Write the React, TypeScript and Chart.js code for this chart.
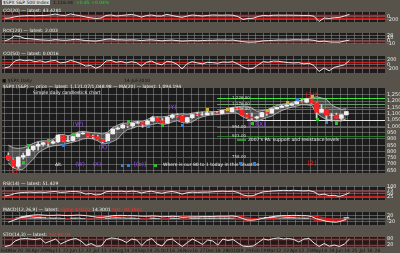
import React, { useEffect, useRef } from "react";
import { Chart, registerables } from "chart.js";
Chart.register(...registerables);

// ---------- DATA (weekly, Feb 27 2009 .. Jun 18 2010) ----------
const openPrices = [770,735,683,756,769,816,843,857,870,866,878,930,883,887,919,940,946,921,918,896,879,940,979,987,1010,1005,1026,1029,1016,1042,1068,1044,1025,1071,1087,1080,1036,1069,1093,1091,1091,1106,1106,1102,1126,1115,1145,1136,1092,1074,1066,1075,1109,1104,1139,1150,1160,1167,1179,1194,1192,1217,1187,1111,1136,1088,1089,1064,1092];
const closePrices = [735,683,756,769,816,843,857,870,866,878,930,883,887,919,940,946,921,918,896,879,940,979,987,1010,1005,1026,1029,1016,1042,1068,1044,1025,1071,1087,1080,1036,1069,1093,1091,1091,1106,1106,1102,1126,1115,1145,1136,1092,1074,1066,1075,1109,1104,1139,1150,1160,1167,1179,1194,1192,1217,1187,1111,1136,1088,1089,1064,1092,1117];
const highPrices = [790,742,758,788,832,845,875,875,878,888,930,933,925,920,945,956,948,931,930,898,943,980,996,1018,1013,1027,1040,1031,1048,1080,1075,1061,1076,1097,1101,1085,1072,1096,1113,1112,1119,1110,1117,1129,1130,1145,1150,1137,1103,1105,1081,1112,1112,1139,1152,1167,1180,1181,1196,1213,1218,1220,1190,1173,1135,1104,1105,1093,1119];
const lowPrices = [730,672,666,740,765,805,812,843,840,860,870,880,878,883,915,937,916,903,894,869,880,940,973,985,990,991,1024,992,1017,1040,1043,1020,1025,1062,1075,1035,1029,1062,1085,1087,1091,1090,1097,1099,1114,1114,1131,1090,1071,1044,1056,1074,1086,1104,1139,1147,1159,1167,1179,1192,1186,1183,1065,1111,1056,1040,1064,1042,1089];
const bbUpper = [850,830,825,830,845,865,880,885,885,895,935,935,925,935,955,960,955,950,945,940,955,990,1010,1025,1025,1035,1040,1040,1055,1075,1075,1075,1080,1095,1095,1100,1095,1105,1110,1115,1115,1117,1117,1127,1136,1150,1155,1160,1160,1145,1120,1125,1130,1150,1165,1175,1180,1188,1200,1208,1220,1225,1235,1225,1215,1170,1150,1135,1140];
const bbLower = [710,670,655,660,700,740,790,815,835,845,850,855,865,875,885,900,905,900,885,860,865,880,900,945,975,985,1000,1000,1005,1015,1025,1015,1020,1035,1045,1030,1025,1035,1060,1075,1085,1093,1093,1097,1100,1106,1105,1080,1060,1045,1040,1055,1070,1080,1105,1125,1140,1152,1160,1172,1170,1165,1105,1075,1055,1050,1040,1045,1060];

const cciTop = [-123,-105,-20,42,60,80,60,80,80,116,190,98,80,200,116,60,-31,-86,-142,-105,80,116,42,80,116,164,80,-42,80,116,42,42,164,80,6,-57,42,116,80,42,80,116,105,98,116,98,6,-215,-142,-123,6,80,60,98,105,98,105,98,90,80,90,24,-362,-105,-142,-86,-68,42,164];
const rocVals = [-1,5.5,19,16,8.6,7.5,5.5,3.4,2.4,1.4,4.5,2.4,1.4,3.4,5.5,3.4,0.3,-0.7,-1.7,1.4,5.5,6.5,3.4,3.4,2.4,3.4,2.4,0.3,2.4,3.4,1.4,-0.7,1.4,2.4,0.3,-1.7,-0.7,0.3,-0.7,0.3,1.4,1.4,2.4,2.4,1.4,2.4,-0.7,-3.8,-5.8,-5.8,-3.8,-0.7,0.3,1.4,2.4,2.4,2.4,3.4,3.4,2.4,3.4,1.4,-3.8,-1.7,-4.8,-5.8,-5.8,-1.7,2.4];
const cciMid = [-160,-104,148,204,162,190,120,162,92,148,176,64,92,176,120,36,-76,-48,-174,-76,148,176,92,134,64,120,78,-76,92,148,36,-20,134,106,8,-202,36,120,64,22,92,78,50,106,92,120,22,-118,-202,-174,-20,120,92,148,134,106,78,64,78,22,50,-48,-314,-160,-286,-132,-76,-20,176];
const rsiVals = [33,37.5,50,56,58,60,58,60,58,62.5,65,58,60,65,65,60,46,50,40,44,62.5,67,65,67,62.5,67,65,54,62.5,67,58,52,60,65,58,46,56,60,58,60,60,62.5,65,67,65,67,58,40,33,35,50,62.5,65,69,71,73,71,73,71,69,71,62.5,40,46,35,37.5,29,40,56];
const macdLine = [-23,-12,0,12,17.5,21,23,21,19,19,21,19,17.5,19,21,19,16,12,7,7,12,17.5,19,19,17.5,17.5,16,14,14,16,14,10.5,12,14,12,7,9,10.5,10.5,12,12,12,14,14,14,16,12,2,-9,-10.5,-7,0,5,10.5,16,17.5,17.5,19,19,17.5,17.5,12,-2,-9,-17.5,-21,-23,-16,-3.5];
const macdSignal = [-5,-6,-4,0,5,10,14,17,18,19,19.5,19.5,19,19,19.5,19.5,18.5,17,14,12,11,12,14,16,17,17.5,17,16,15,15,15,14,13,13,12.5,11,10,10,10,10.5,11,11.5,12,13,13.5,14,14,11,6,1,-3,-4,-3,0,4,8,11,14,16,17,17.5,16.5,12,7,1,-5,-10,-13,-12];
const macdHist = [-6,-4,4,12,15,13,10,6,3,1,2,0,-1,1,2,0,-2,-4,-6,-5,1,5,5,4,2,1,0,-2,-1,1,0,-3,-1,1,0,-4,-1,1,1,2,1,1,2,1,1,2,-2,-8,-12,-11,-6,3,7,9,11,10,8,6,4,2,1,-4,-12,-14,-15,-13,-10,-5,6];
const stochVals = [5,15,60,80,85,80,75,85,40,60,80,30,55,75,85,60,15,35,8,10,75,90,85,70,45,80,70,15,65,85,30,10,70,80,40,5,45,80,55,25,70,60,20,80,65,75,40,8,5,10,45,80,70,85,90,80,85,75,50,80,85,40,5,35,8,20,5,30,80];

const priceTicks = [650,700,750,800,850,900,950,1000,1050,1100,1150,1200,1250];
const supportLevels = [1226, 1176, 1136, 994, 923, 758];
const supportColors = ["#3fe03f", "#6f9a6f", "#2e8f2e", "#2e8f2e", "#2a7a2a", "#2a7a2a"];
const supportStart = [42, 42, 42, 42, 42, 30];
const whiteLevel = [1047];

// x-axis: grid every 1.5 weeks, with its date label
const xGrid = [0,1.5,3,4.5,6,7.5,9,10.5,12,13.5,15,16.5,18,19.5,21,22.5,24,25.5,27,28.5,30,31.5,33,34.5,36,37.5,39,40.5,42,43.5,45,46.5,48,49.5,51,52.5,54,55.5,57,58.5,60,61.5,63,64.5,66,67.5,69,70.5,72,73.5];
const xGridText = ["Feb","Mar","20","30","Apr","20","May","11","22","Jun","12","22","Jul","13","24","Aug","14","24","Sep","14","25","Oct","16","26","Nov","16","27","Dec","18","28","2010","19","29","Feb","19","Mar","12","22","Apr","12","23","May","14","24","Jun","14","25","Jul","16","26"];

const waveIdx = [1, 14, 19, 33, 50, 61];
const wavePrice = [640, 1015, 835, 1148, 1018, 1248];
const waveText = ["[1]", "(W)", "(X)", "(Y)", "[4](X)", "[3]?"];
const waveColor = ["#ff2020", "#9a4dff", "#9a4dff", "#9a4dff", "#9a4dff", "#ff2020"];

const markIdx = [3, 4, 8, 11, 13, 20, 24, 28, 31, 35, 40, 44, 49, 52, 56, 58, 61, 62, 64, 66];
const markPrice = [720, 850, 895, 855, 940, 875, 1040, 1000, 1010, 1010, 1135, 1140, 1030, 1130, 1190, 1215, 1240, 1060, 1035, 1030];
const markColor = ["#2fbf2f","#2fbf2f","#2fbf2f","#3a7fd0","#2fbf2f","#3a7fd0","#2fbf2f","#3a7fd0","#2fbf2f","#3a7fd0","#c8b030","#c8b030","#2fbf2f","#c8b030","#c8b030","#3a7fd0","#c8b030","#2fbf2f","#3a7fd0","#2fbf2f"];

// ---------- helpers ----------
const X_MIN = -0.5;
const X_MAX = 75;
const GRID = "rgba(150,150,150,0.5)";
const PANEL_BG = "#1c1c1c";
const FONT = "DejaVu Sans";
const MAIN_TOP = 83;

const pts = (arr: number[]) => arr.map((y, i) => ({ x: i, y }));

const bgPlugin = {
  id: "bgPanel",
  beforeDraw(chart: any) {
    const { ctx, chartArea } = chart;
    ctx.save();
    ctx.fillStyle = PANEL_BG;
    ctx.fillRect(chartArea.left, chartArea.top, chartArea.right - chartArea.left, chartArea.bottom - chartArea.top);
    ctx.restore();
  },
};

const levelsPlugin = {
  id: "levels",
  beforeDatasetsDraw(chart: any, _a: any, opts: any) {
    const items = opts.items || [];
    const { ctx, chartArea, scales } = chart;
    ctx.save();
    for (const it of items) {
      const y = Math.round(scales.y.getPixelForValue(it.value)) + 0.5;
      const x0 = it.from != null ? scales.x.getPixelForValue(it.from) : chartArea.left;
      ctx.strokeStyle = it.color;
      ctx.lineWidth = it.width || 1;
      ctx.beginPath();
      ctx.moveTo(x0, y);
      ctx.lineTo(chartArea.right, y);
      ctx.stroke();
    }
    ctx.restore();
  },
};

const textsPlugin = {
  id: "texts",
  afterDatasetsDraw(chart: any, _a: any, opts: any) {
    const items = opts.items || [];
    const { ctx, scales } = chart;
    ctx.save();
    for (const it of items) {
      const x = it.px != null ? it.px : scales.x.getPixelForValue(it.x);
      const y = it.py != null ? it.py : scales.y.getPixelForValue(it.y);
      if (it.square) {
        ctx.fillStyle = it.color;
        ctx.fillRect(Math.round(x) - 1, Math.round(y) - 1, 3, 3);
        continue;
      }
      if (it.line) {
        ctx.strokeStyle = it.color;
        ctx.lineWidth = 1.5;
        ctx.beginPath();
        ctx.moveTo(x, y);
        ctx.lineTo(x + it.line, y);
        ctx.stroke();
        continue;
      }
      ctx.fillStyle = it.color;
      ctx.font = `${it.bold ? "bold " : ""}${it.size || 5}px ${FONT}`;
      ctx.textAlign = it.align || "center";
      ctx.textBaseline = "middle";
      ctx.fillText(it.text, x, y);
    }
    ctx.restore();
  },
};

function xScale(showLabels: boolean) {
  return {
    type: "linear",
    min: X_MIN,
    max: X_MAX,
    grid: { color: GRID, lineWidth: 1, drawTicks: false },
    border: { display: false },
    ticks: {
      display: showLabels,
      color: "#111",
      font: { size: 4.5, family: FONT },
      padding: 1,
      maxRotation: 0,
      autoSkip: false,
      callback: (v: number) => {
        const k = xGrid.indexOf(v);
        return k >= 0 ? xGridText[k] : "";
      },
    },
    afterBuildTicks: (s: any) => {
      s.ticks = xGrid.map((v) => ({ value: v }));
    },
    afterFit: (s: any) => {
      s.height = showLabels ? 6 : 0;
    },
  };
}

function yScale(min: number, max: number, ticks: number[], fmt?: (v: number) => string) {
  return {
    position: "right",
    min,
    max,
    grid: { color: GRID, lineWidth: 1, drawTicks: false },
    border: { display: false },
    ticks: {
      color: "#e8e8e8",
      font: { size: 5, family: FONT },
      padding: 2,
      autoSkip: false,
      callback: (v: number) => (fmt ? fmt(v) : String(v)),
    },
    afterBuildTicks: (s: any) => {
      s.ticks = ticks.map((v) => ({ value: v }));
    },
    afterFit: (s: any) => {
      s.width = 15;
    },
  };
}

function baseOptions(xs: any, ys: any, plugins: any = {}) {
  return {
    responsive: false,
    animation: false,
    devicePixelRatio: 1,
    layout: { padding: { left: 2, right: 0, top: 0, bottom: 0 } },
    plugins: { legend: { display: false }, tooltip: { enabled: false }, ...plugins },
    scales: { x: xs, y: ys },
    elements: { point: { radius: 0 } },
  };
}

function lineDs(data: number[], color: string, width = 1, extra: any = {}) {
  return { type: "line", data: pts(data), borderColor: color, borderWidth: width, pointRadius: 0, tension: 0, ...extra };
}

function Panel({ top, height, build }: { top: number; height: number; build: () => any }) {
  const ref = useRef<HTMLCanvasElement | null>(null);
  useEffect(() => {
    const chart = new Chart(ref.current as HTMLCanvasElement, build());
    return () => chart.destroy();
  }, []);
  return (
    <canvas
      ref={ref}
      width={400}
      height={height}
      style={{ position: "absolute", left: 0, top, width: 400, height, display: "block" }}
    />
  );
}

const plugins = [bgPlugin, levelsPlugin, textsPlugin];

function oscConfig(data: number[], min: number, max: number, ticks: number[], reds: number[], showX = false) {
  return {
    type: "line",
    data: { datasets: [lineDs(data, "#e6e6e6", 1)] },
    options: baseOptions(xScale(showX), yScale(min, max, ticks), {
      levels: { items: reds.map((v) => ({ value: v, color: "#c81e1e", width: 1.5 })) },
    }),
    plugins,
  };
}

const fmtPrice = (v: number) => v.toLocaleString("en-US");

function mainConfig() {
  const candleBodies = openPrices.map((o, i) => ({ x: i, y: [o, closePrices[i]] }));
  const wicks = lowPrices.map((l, i) => ({ x: i, y: [l, highPrices[i]] }));
  const bodyColors = openPrices.map((o, i) => (closePrices[i] < o ? "#ff2020" : "#f0f0f0"));
  const levelItems = [
    ...supportLevels.map((v, i) => ({ value: v, color: supportColors[i], from: supportStart[i], width: 1 })),
    ...whiteLevel.map((v) => ({ value: v, color: "#e8e8e8", from: 48, width: 1.2 })),
  ];
  const T = MAIN_TOP;
  const textItems: any[] = [
    ...waveIdx.map((x, i) => ({ x, y: wavePrice[i], text: waveText[i], color: waveColor[i], size: 6 })),
    ...markIdx.map((x, i) => ({ x, y: markPrice[i], square: true, color: markColor[i] })),
    ...supportLevels.map((v, i) => ({ x: 45, y: v, text: fmtPrice(v) + ".00", color: "#dddddd", size: 4, align: "left" })),
    { px: 33, py: 93 - T, text: "Simple daily candlestick chart", color: "#f0f0f0", size: 4.5, align: "left" },
    { px: 237, py: 140 - T, line: 9, color: "#2fbf2f" },
    { px: 248, py: 140 - T, text: "2007's PA: support and resistance levels", color: "#f0f0f0", size: 4.5, align: "left" },
    { px: 55, py: 165 - T, text: "Alt.", color: "#f0f0f0", size: 4.5, align: "left" },
    { px: 80, py: 165 - T, text: "(W)", color: "#9a4dff", size: 5.5 },
    { px: 97, py: 165 - T, text: "(X)", color: "#9a4dff", size: 5.5 },
    { px: 122, py: 165 - T, square: true, color: "#3a7fd0" },
    { px: 128, py: 165 - T, square: true, color: "#3a7fd0" },
    { px: 140, py: 165 - T, text: "[(b)]", color: "#9a4dff", size: 5.5 },
    { px: 155, py: 165 - T, square: true, color: "#2fbf2f" },
    { px: 163, py: 165 - T, text: "Where is our 80 to 1 today in this situation", color: "#f0f0f0", size: 4.5, align: "left" },
    { px: 240, py: 163 - T, square: true, color: "#3a7fd0" },
    { px: 254, py: 163 - T, square: true, color: "#3a7fd0" },
    { px: 312, py: 163 - T, text: "[2]", color: "#ff2020", size: 6 },
  ];
  return {
    type: "bar",
    data: {
      datasets: [
        lineDs(bbUpper, "rgba(200,200,200,0.8)", 1, { fill: "+1", backgroundColor: "rgba(170,170,170,0.35)", order: 3 }),
        lineDs(bbLower, "rgba(200,200,200,0.8)", 1, { order: 3 }),
        { type: "bar", data: wicks, backgroundColor: "#d0d0d0", barThickness: 1, grouped: false, order: 2 },
        { type: "bar", data: candleBodies, backgroundColor: bodyColors, barThickness: 4, grouped: false, order: 1 },
      ],
    },
    options: baseOptions(xScale(false), yScale(630, 1304, priceTicks, fmtPrice), {
      levels: { items: levelItems },
      texts: { items: textItems },
    }),
    plugins,
  };
}

function macdConfig() {
  const histColors = macdHist.map((v) => (v >= 0 ? "rgba(235,235,235,0.9)" : "#e01818"));
  return {
    type: "bar",
    data: {
      datasets: [
        { type: "bar", data: pts(macdHist), backgroundColor: histColors, barThickness: 5, grouped: false, order: 3 },
        lineDs(macdSignal, "#e01818", 1.2, { order: 2 }),
        lineDs(macdLine, "#e6e6e6", 1, { order: 1 }),
      ],
    },
    options: baseOptions(xScale(false), yScale(-40, 40, [20, 0, -20]), {
      levels: { items: [{ value: 0, color: "#c81e1e", width: 1 }] },
    }),
    plugins,
  };
}

const label: React.CSSProperties = {
  position: "absolute",
  fontFamily: FONT,
  fontSize: 4.5,
  lineHeight: "5px",
  whiteSpace: "nowrap",
  color: "#f2f2f2",
};

export default function App() {
  useEffect(() => {
    document.body.style.margin = "0";
  }, []);
  return (
    <div style={{ position: "relative", width: 400, height: 253, background: "#57534a", overflow: "hidden" }}>
      <Panel top={7} height={20} build={() => oscConfig(cciTop, -400, 337, [0, -200], [100, -100])} />
      <Panel top={28} height={21} build={() => oscConfig(rocVals, -13, 30, [20, 10, 0, -10], [0])} />
      <Panel top={51} height={27} build={() => oscConfig(cciMid, -383, 372, [200, 0, -200], [100, -100])} />
      <Panel top={MAIN_TOP} height={95} build={mainConfig} />
      <Panel top={181} height={24} build={() => oscConfig(rsiVals, 4, 104, [100, 75, 50, 25], [70, 30])} />
      <Panel top={207} height={23} build={macdConfig} />
      <Panel top={232} height={21} build={() => oscConfig(stochVals, 0, 100, [80, 20], [80, 20], true)} />

      <div style={{ ...label, left: 2, top: 0, color: "#111" }}>
        <span style={{ background: "#d8d8d8", padding: "0 1px" }}>$SPX S&amp;P 500 Index</span>
        <span style={{ marginLeft: 3 }}>1,116.04</span>
        <span style={{ marginLeft: 3, color: "#1fd01f" }}>+0.45 +0.04%</span>
      </div>
      <div style={{ ...label, left: 3, top: 8 }}>CCI(20) — latest: 43.4281</div>
      <div style={{ ...label, left: 3, top: 28 }}>ROC(20) — latest: 2.003</div>
      <div style={{ ...label, left: 3, top: 51 }}>CCI(50) — latest: 0.0016</div>
      <div style={{ ...label, left: 2, top: 78, color: "#111" }}>■ $SPX Daily</div>
      <div style={{ ...label, left: 124, top: 78, color: "#111" }}>14-Jul-2010</div>
      <div style={{ ...label, left: 3, top: 84 }}>$SPX (S&amp;P) — price — latest: 1,121.07/1,048.98 — MA(20) — latest: 1,094.194</div>
      <div style={{ ...label, left: 3, top: 181 }}>RSI(14) — latest: 51.429</div>
      <div style={{ ...label, left: 3, top: 207 }}>
        MACD(12,26,9) — latest: <span style={{ color: "#ff3030" }}>signal 4.0502</span> 14.3001 <span style={{ color: "#ff3030" }}>hist -10.3042</span>
      </div>
      <div style={{ ...label, left: 3, top: 232 }}>
        STO(14,3) — latest: <span style={{ color: "#ff3030" }}>%D 80.04</span>
      </div>
    </div>
  );
}
